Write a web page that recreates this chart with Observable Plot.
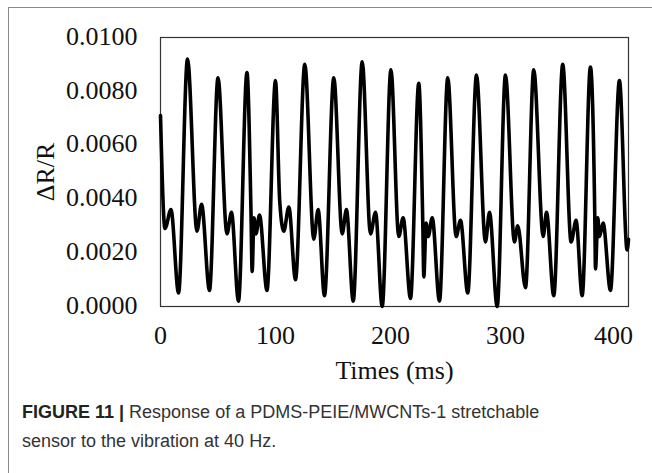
<!DOCTYPE html>
<html>
<head>
<meta charset="utf-8">
<script src="https://cdn.jsdelivr.net/npm/d3@7"></script>
<script src="https://cdn.jsdelivr.net/npm/@observablehq/plot@0.6"></script>
<style>
  html, body { margin: 0; padding: 0; background: #fff; }
  #wrap { position: relative; width: 652px; height: 473px; overflow: hidden; }
  #border { position: absolute; left: 8px; top: 7px; width: 700px; height: 500px;
            border-top: 1px solid #8a8a8a; border-left: 1px solid #8a8a8a; }
  #chart { position: absolute; left: 0; top: 0; }
  #caption { position: absolute; left: 22px; top: 398px; width: 625px;
             font-family: "Liberation Sans", Arial, sans-serif; font-size: 18px;
             line-height: 29px; color: #333; white-space: nowrap; }
  #caption b { color: #222; }
</style>
</head>
<body>
<div id="wrap">
  <div id="border"></div>
  <div id="chart"></div>
  <div id="caption"><b>FIGURE 11 |</b> Response of a PDMS-PEIE/MWCNTs-1 stretchable<br>sensor to the vibration at 40 Hz.</div>
</div>
<script>
const times = [0, 3.9, 9.1, 15.7, 23.5, 31.7, 35.7, 42.6, 50.0, 57.8, 61.7, 67.8, 75.2, 78.7, 79.7, 81.3, 83.0, 86.1, 92.6,
  100.0, 103.7, 107.2, 111.6, 117.4, 125.5, 133.3, 137.1, 142.6, 150.7, 158.0, 161.7, 167.6, 175.4, 182.6, 187.0, 192.8,
  200.4, 207.2, 211.0, 217.4, 224.6, 228.1, 229.0, 231.0, 232.8, 236.3, 242.6, 249.8, 257.1, 260.9, 267.2, 274.8, 282.6,
  286.1, 292.8, 300.0, 307.8, 310.7, 317.4, 324.6, 332.8, 335.7, 342.0, 349.8, 357.1, 361.4, 366.7, 373.9, 377.7, 378.3,
  380.3, 381.7, 384.9, 391.3, 399.1, 405.8, 407.0];
const values = [0.0071, 0.0029, 0.0036, 0.0005, 0.0092, 0.0028, 0.0038, 0.0006, 0.0085, 0.0027, 0.0035, 0.0002, 0.0087, 0.0035, 0.0013, 0.0033, 0.0027, 0.0034, 0.0006,
  0.0084, 0.0039, 0.0028, 0.0037, 0.0010, 0.0090, 0.0025, 0.0036, 0.0004, 0.0085, 0.0027, 0.0036, 0.0002, 0.0091, 0.0027, 0.0035, 0.0000,
  0.0088, 0.0026, 0.0033, 0.0003, 0.0083, 0.0031, 0.0011, 0.0031, 0.0026, 0.0033, 0.0002, 0.0085, 0.0026, 0.0032, 0.0005, 0.0086, 0.0024,
  0.0035, 0.0000, 0.0086, 0.0024, 0.0030, 0.0007, 0.0088, 0.0026, 0.0035, 0.0004, 0.0090, 0.0024, 0.0032, 0.0004, 0.0089, 0.0033, 0.0014,
  0.0033, 0.0026, 0.0031, 0.0006, 0.0084, 0.0021, 0.0025];
const xTicks = [0, 100, 200, 300];
const xLastTick = [400];
const yTicks = [0, 0.002, 0.004, 0.006, 0.008, 0.01];
const xLabel = "Times (ms)";
const yLabel = "ΔR/R";

const data = times.map((t, i) => ({t, v: values[i]}));
const serif = "'Liberation Serif', 'Times New Roman', serif";

const chart = Plot.plot({
  width: 652,
  height: 390,
  marginLeft: 160,
  marginRight: 24,
  marginTop: 37,
  marginBottom: 84,
  style: {fontFamily: serif, fontSize: "26px", color: "#111", background: "transparent"},
  x: {domain: [0, 407], axis: null},
  y: {domain: [0, 0.01], axis: null},
  marks: [
    Plot.axisY(yTicks, {tickSize: 0, tickPadding: 23, tickFormat: d3.format(".4f"), fontSize: 26, label: null, dy: -1}),
    Plot.axisX(xTicks, {tickSize: 0, tickPadding: 19, tickFormat: d => String(d), fontSize: 26, label: null}),
    Plot.axisX(xLastTick, {tickSize: 0, tickPadding: 19, tickFormat: d => String(d), fontSize: 26, label: null, dx: -7}),
    Plot.frame({stroke: "#333", strokeWidth: 1.2}),
    Plot.line(data, {x: "t", y: "v", curve: "monotone-x", stroke: "#000", strokeWidth: 3.6}),
    Plot.text([xLabel], {frameAnchor: "bottom", lineAnchor: "middle", textAnchor: "middle", dy: 64, fontSize: 26, fill: "#111"}),
    Plot.text([yLabel], {frameAnchor: "left", lineAnchor: "middle", textAnchor: "middle", dx: -115, rotate: -90, fontSize: 26, fill: "#111"})
  ]
});
document.getElementById("chart").appendChild(chart);
</script>
</body>
</html>
